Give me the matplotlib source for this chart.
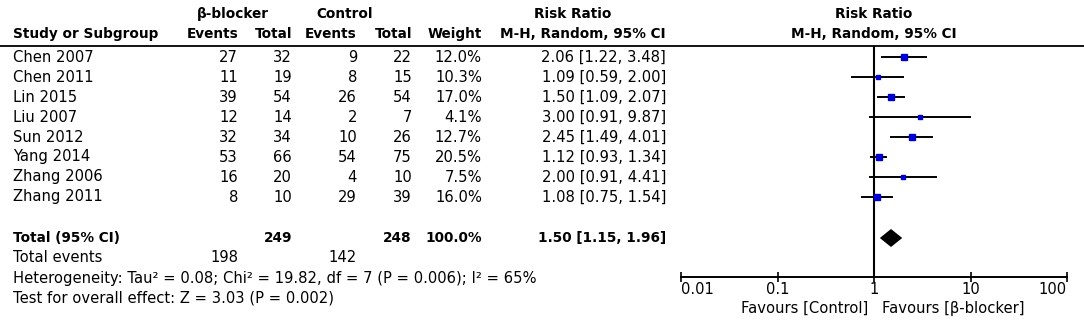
import matplotlib
matplotlib.use('Agg')
import matplotlib.pyplot as plt
import numpy as np

# study data
studies = ['Chen 2007', 'Chen 2011', 'Lin 2015', 'Liu 2007',
           'Sun 2012', 'Yang 2014', 'Zhang 2006', 'Zhang 2011']
bb_events = [27, 11, 39, 12, 32, 53, 16, 8]
bb_total = [32, 19, 54, 14, 34, 66, 20, 10]
ctl_events = [9, 8, 26, 2, 10, 54, 4, 29]
ctl_total = [22, 15, 54, 7, 26, 75, 10, 39]
weight = [12.0, 10.3, 17.0, 4.1, 12.7, 20.5, 7.5, 16.0]
rr = [2.06, 1.09, 1.50, 3.00, 2.45, 1.12, 2.00, 1.08]
lo = [1.22, 0.59, 1.09, 0.91, 1.49, 0.93, 0.91, 0.75]
hi = [3.48, 2.00, 2.07, 9.87, 4.01, 1.34, 4.41, 1.54]

total_rr, total_lo, total_hi = 1.50, 1.15, 1.96
total_bb, total_ctl = 249, 248
total_weight = 100.0
events_bb, events_ctl = 198, 142
ticks = [0.01, 0.1, 1, 10, 100]
tick_labels = ['0.01', '0.1', '1', '10', '100']

W, H = 1084, 321
fig = plt.figure(figsize=(W / 100, H / 100), dpi=100)
plt.rcParams['font.family'] = ['DejaVu Sans']
fs = 10.6   # regular text
fb = 9.8    # bold text

# table part, pixel coordinates
ax = fig.add_axes([0, 0, 1, 1])
ax.set_xlim(0, W)
ax.set_ylim(H, 0)
ax.axis('off')

y0, dy = 57, 20
row_y = [y0 + i * dy for i in range(len(studies))]
y_tot = 238

def txt(x, y, s, ha='right', bold=False):
    ax.text(x, y, s, ha=ha, va='center', fontsize=fb if bold else fs,
            fontweight='bold' if bold else 'normal')

# headers
txt(233, 14, 'β-blocker', ha='center', bold=True)
txt(345, 14, 'Control', ha='center', bold=True)
txt(573, 14, 'Risk Ratio', ha='center', bold=True)
txt(13, 34, 'Study or Subgroup', ha='left', bold=True)
for x, s in [(238, 'Events'), (292, 'Total'), (357, 'Events'), (412, 'Total'),
             (482, 'Weight'), (666, 'M-H, Random, 95% CI')]:
    txt(x, 34, s, bold=True)
ax.plot([0, W], [46, 46], color='black', lw=1.3)

for i, y in enumerate(row_y):
    txt(13, y, studies[i], ha='left')
    txt(238, y, str(bb_events[i]))
    txt(292, y, str(bb_total[i]))
    txt(357, y, str(ctl_events[i]))
    txt(412, y, str(ctl_total[i]))
    txt(482, y, f'{weight[i]:.1f}%')
    txt(666, y, f'{rr[i]:.2f} [{lo[i]:.2f}, {hi[i]:.2f}]')

txt(13, y_tot, 'Total (95% CI)', ha='left', bold=True)
txt(292, y_tot, str(total_bb), bold=True)
txt(412, y_tot, str(total_ctl), bold=True)
txt(482, y_tot, f'{total_weight:.1f}%', bold=True)
txt(666, y_tot, f'{total_rr:.2f} [{total_lo:.2f}, {total_hi:.2f}]', bold=True)

txt(13, 258, 'Total events', ha='left')
txt(238, 258, str(events_bb))
txt(357, 258, str(events_ctl))
txt(13, 278, 'Heterogeneity: Tau² = 0.08; Chi² = 19.82, df = 7 (P = 0.006); I² = 65%', ha='left')
txt(13, 298, 'Test for overall effect: Z = 3.03 (P = 0.002)', ha='left')

# forest part
fx0, fx1 = 681, 1067
fa = fig.add_axes([fx0 / W, 0, (fx1 - fx0) / W, 1])
fa.set_xscale('log')
fa.set_xlim(0.01, 100)
fa.set_ylim(H, 0)
fa.patch.set_alpha(0)
for sp in ['top', 'left', 'right']:
    fa.spines[sp].set_visible(False)
fa.spines['bottom'].set_position(('data', 277))
fa.spines['bottom'].set_linewidth(1.4)
fa.set_yticks([])
fa.set_xticks(ticks)
fa.set_xticklabels(tick_labels, fontsize=fs)
fa.xaxis.set_minor_locator(matplotlib.ticker.NullLocator())
fa.tick_params(axis='x', direction='inout', length=7, width=1.2, pad=0)
lbls = fa.get_xticklabels()
lbls[0].set_ha('left')
lbls[-1].set_ha('right')

fa.text(1, 14, 'Risk Ratio', ha='center', va='center', fontsize=fb, fontweight='bold')
fa.text(1, 34, 'M-H, Random, 95% CI', ha='center', va='center', fontsize=fb, fontweight='bold')
fa.vlines(1, 46, 277, color='black', lw=1.5)

for i, y in enumerate(row_y):
    fa.plot([lo[i], hi[i]], [y, y], color='black', lw=1.4)
    fa.plot(rr[i], y, marker='s', color='#0000d0', ms=1.1 * np.sqrt(weight[i]), mec='#0000d0')

fa.fill([total_lo, total_rr, total_hi, total_rr], [y_tot, y_tot - 9, y_tot, y_tot + 9],
        color='black', lw=0)

fa.text(1 / 1.15, 308, 'Favours [Control]', ha='right', va='center', fontsize=fs)
fa.text(1.2, 308, 'Favours [β-blocker]', ha='left', va='center', fontsize=fs)

fig.savefig('out.png', dpi=100)
